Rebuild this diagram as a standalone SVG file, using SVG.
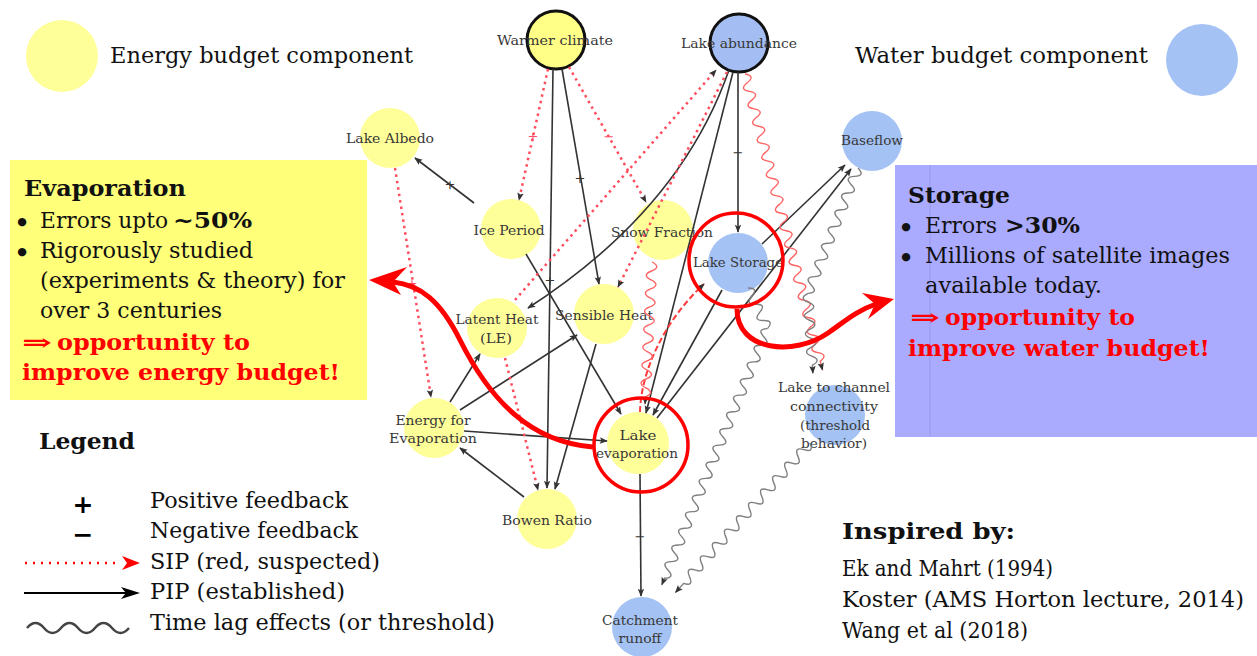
<svg xmlns="http://www.w3.org/2000/svg" width="1257" height="656" viewBox="0 0 1257 656">
<style>
.ny{fill:#ffff99;}
.nb{fill:#a4c2f4;}
.lbl{font-family:"DejaVu Serif","Liberation Serif",serif;font-size:13px;fill:#383838;text-anchor:middle;}
.e{fill:none;stroke:#333;stroke-width:1.6;marker-end:url(#ah);}
.sip{fill:none;stroke:#ff4d5e;stroke-width:2.5;stroke-dasharray:2.5,4;marker-end:url(#ah);}
.sid{fill:none;stroke:#ff3b3b;stroke-width:2;stroke-dasharray:6,3;marker-end:url(#ah);}
.wg{fill:none;stroke:#808080;stroke-width:1.4;}
.wr{fill:none;stroke:#ff6464;stroke-width:1.4;}
.arr{marker-end:url(#ah);}
.tx{font-family:"DejaVu Serif","Liberation Serif",serif;font-size:22px;fill:#111;}
.bul{font-family:"DejaVu Sans",sans-serif;font-size:11px;fill:#111;text-anchor:middle;}
.b{font-weight:bold;}
.rd{fill:#ff0000;font-weight:bold;}
.tk{font-family:"DejaVu Sans",sans-serif;font-size:13px;text-anchor:middle;}
.ring{fill:none;stroke:#ff0000;stroke-width:3.5;}
.thick{fill:none;stroke:#ff0000;stroke-width:5;}
</style>
<defs>
<marker id="ah" viewBox="0 0 10 10" refX="9" refY="5" markerWidth="9" markerHeight="8" markerUnits="userSpaceOnUse" orient="auto">
<path d="M0,1 L10,5 L0,9 L2,5 z" fill="#333"/>
</marker>
</defs>
<rect width="1257" height="656" fill="#ffffff"/>

<g id="legend-top">
<circle cx="62" cy="56" r="36" class="ny"/>
<text class="tx" x="110" y="63" textLength="303" lengthAdjust="spacingAndGlyphs">Energy budget component</text>
<text class="tx" x="855" y="63" textLength="293" lengthAdjust="spacingAndGlyphs">Water budget component</text>
<circle cx="1202" cy="60" r="36" class="nb"/>
</g>

<g id="box-evaporation">
<rect x="10" y="160" width="357" height="240" fill="#ffff7a"/>
<text class="tx b" x="24" y="196" textLength="162" lengthAdjust="spacingAndGlyphs">Evaporation</text>
<text class="bul" x="22" y="225">●</text>
<text class="tx" x="40" y="228" textLength="128" lengthAdjust="spacingAndGlyphs">Errors upto</text>
<text class="tx b" x="173" y="228" textLength="79" lengthAdjust="spacingAndGlyphs">~50%</text>
<text class="bul" x="22" y="255">●</text>
<text class="tx" x="40" y="258" textLength="213" lengthAdjust="spacingAndGlyphs">Rigorously studied</text>
<text class="tx" x="40" y="288" textLength="305" lengthAdjust="spacingAndGlyphs">(experiments &amp; theory) for</text>
<text class="tx" x="40" y="318" textLength="182" lengthAdjust="spacingAndGlyphs">over 3 centuries</text>
<text class="tx rd" x="22" y="350" textLength="30" lengthAdjust="spacingAndGlyphs">⇒</text>
<text class="tx rd" x="57" y="350" textLength="193" lengthAdjust="spacingAndGlyphs">opportunity to</text>
<text class="tx rd" x="22" y="380" textLength="318" lengthAdjust="spacingAndGlyphs">improve energy budget!</text>
</g>

<g id="box-storage">
<rect x="895" y="165" width="362" height="272" fill="#aaaaff"/>
<line x1="930" y1="165" x2="930" y2="437" stroke="#9898ee" stroke-width="1"/>
<text class="tx b" x="908" y="203" textLength="102" lengthAdjust="spacingAndGlyphs">Storage</text>
<text class="bul" x="906" y="230">●</text>
<text class="tx" x="925" y="233" textLength="72" lengthAdjust="spacingAndGlyphs">Errors</text>
<text class="tx b" x="1005" y="233" textLength="75" lengthAdjust="spacingAndGlyphs">&gt;30%</text>
<text class="bul" x="906" y="260">●</text>
<text class="tx" x="925" y="263" textLength="305" lengthAdjust="spacingAndGlyphs">Millions of satellite images</text>
<text class="tx" x="925" y="293" textLength="177" lengthAdjust="spacingAndGlyphs">available today.</text>
<text class="tx rd" x="910" y="325" textLength="30" lengthAdjust="spacingAndGlyphs">⇒</text>
<text class="tx rd" x="945" y="325" textLength="190" lengthAdjust="spacingAndGlyphs">opportunity to</text>
<text class="tx rd" x="908" y="356" textLength="302" lengthAdjust="spacingAndGlyphs">improve water budget!</text>
</g>

<g id="node-warmer-climate">
<circle cx="556" cy="40" r="29" fill="#ffff88" stroke="#111" stroke-width="3"/>
<text class="lbl" x="555" y="45" textLength="116" lengthAdjust="spacingAndGlyphs">Warmer climate</text>
</g>
<g id="node-lake-abundance">
<circle cx="739" cy="43" r="29" fill="#a4bdf2" stroke="#111" stroke-width="3"/>
<text class="lbl" x="739" y="48" textLength="116" lengthAdjust="spacingAndGlyphs">Lake abundance</text>
</g>
<g id="node-lake-albedo">
<circle cx="390" cy="138" r="30" class="ny"/>
<text class="lbl" x="390" y="143" textLength="88" lengthAdjust="spacingAndGlyphs">Lake Albedo</text>
</g>
<g id="node-baseflow">
<circle cx="872" cy="141" r="30" class="nb"/>
<text class="lbl" x="872" y="145" textLength="62" lengthAdjust="spacingAndGlyphs">Baseflow</text>
</g>
<g id="node-ice-period">
<circle cx="511" cy="229" r="30" class="ny"/>
<text class="lbl" x="509" y="235" textLength="71" lengthAdjust="spacingAndGlyphs">Ice Period</text>
</g>
<g id="node-snow-fraction">
<circle cx="663" cy="230" r="30" class="ny"/>
<text class="lbl" x="662" y="237" textLength="102" lengthAdjust="spacingAndGlyphs">Snow Fraction</text>
</g>
<g id="node-lake-storage">
<circle cx="738" cy="263" r="30" class="nb"/>
<text class="lbl" x="738" y="267" textLength="90" lengthAdjust="spacingAndGlyphs">Lake Storage</text>
</g>
<g id="node-latent-heat">
<circle cx="497" cy="328" r="30" class="ny"/>
<text class="lbl" x="497" y="324" textLength="83" lengthAdjust="spacingAndGlyphs">Latent Heat</text>
<text class="lbl" x="496" y="343" textLength="32" lengthAdjust="spacingAndGlyphs">(LE)</text>
</g>
<g id="node-sensible-heat">
<circle cx="604" cy="314" r="30" class="ny"/>
<text class="lbl" x="604" y="320" textLength="98" lengthAdjust="spacingAndGlyphs">Sensible Heat</text>
</g>
<g id="node-energy-for-evaporation">
<circle cx="434" cy="428" r="30" class="ny"/>
<text class="lbl" x="433" y="425" textLength="75" lengthAdjust="spacingAndGlyphs">Energy for</text>
<text class="lbl" x="433" y="443" textLength="88" lengthAdjust="spacingAndGlyphs">Evaporation</text>
</g>
<g id="node-lake-evaporation">
<circle cx="638" cy="443" r="31" class="ny"/>
<text class="lbl" x="638" y="440" textLength="37" lengthAdjust="spacingAndGlyphs">Lake</text>
<text class="lbl" x="637" y="458" textLength="82" lengthAdjust="spacingAndGlyphs">evaporation</text>
</g>
<g id="node-bowen-ratio">
<circle cx="547" cy="519" r="30" class="ny"/>
<text class="lbl" x="547" y="525" textLength="90" lengthAdjust="spacingAndGlyphs">Bowen Ratio</text>
</g>
<g id="node-catchment-runoff">
<circle cx="642" cy="627" r="30" class="nb"/>
<text class="lbl" x="640" y="625" textLength="76" lengthAdjust="spacingAndGlyphs">Catchment</text>
<text class="lbl" x="640" y="643" textLength="43" lengthAdjust="spacingAndGlyphs">runoff</text>
</g>
<g id="node-lake-to-channel">
<circle cx="835" cy="415" r="30" class="nb"/>
<text class="lbl" x="834" y="392" textLength="112" lengthAdjust="spacingAndGlyphs">Lake to channel</text>
<text class="lbl" x="834" y="411" textLength="88" lengthAdjust="spacingAndGlyphs">connectivity</text>
<text class="lbl" x="835" y="430" textLength="70" lengthAdjust="spacingAndGlyphs">(threshold</text>
<text class="lbl" x="834" y="448" textLength="66" lengthAdjust="spacingAndGlyphs">behavior)</text>
</g>

<g id="connectors">
<path class="e" d="M553,69 L547,488"/>
<path class="e" d="M562,69 L599,284"/>
<path class="e" d="M474,203 L415,158"/>
<path class="e" d="M526,254 L621,414"/>
<path class="e" d="M738,72 L738,232"/>
<path class="e" d="M729,70 Q680,210 528,308"/>
<path class="e" d="M733,72 L646,413"/>
<path class="e" d="M722,290 L653,415"/>
<path class="e" d="M762,244 L845,165"/>
<path class="e" d="M657,418 L851,169"/>
<path class="e" d="M464,431 L607,441"/>
<path class="e" d="M450,402 L480,354"/>
<path class="e" d="M460,410 L577,335"/>
<path class="e" d="M524,497 L460,448"/>
<path class="e" d="M596,344 L555,489"/>
<path class="e" d="M640,474 L641,596"/>
<path class="sip" d="M548,69 L519,200"/>
<path class="sip" d="M569,67 L646,202"/>
<path class="sip" d="M515,300 L716,70"/>
<path class="sip" d="M727,72 L618,287"/>
<path class="sip" d="M395,168 L431,397"/>
<path class="sip" d="M505,358 L538,490"/>
<path class="sid" d="M640,412 C641,370 665,320 704,284"/>
<path class="wr arr" transform="translate(745,74) rotate(75.33)" d="M0,0 q4.5,-10 9,0 t9,0 t9,0 t9,0 t9,0 t9,0 t9,0 t9,0 t9,0 t9,0 t9,0 t9,0 t9,0 t9,0 t9,0 t9,0 t9,0 t9,0 t9,0 t9,0 t9,0 t9,0 t9,0 t9,0 t9,0 t9,0 t9,0 t9,0 t9,0 t9,0 t9,0 t9,0 t9,0 l9,0"/>
<path class="wr arr" transform="translate(652,262) rotate(92.8)" d="M0,0 q4.5,-10 9,0 t9,0 t9,0 t9,0 t9,0 t9,0 t9,0 t9,0 t9,0 t9,0 t9,0 t9,0 t9,0 t9,0 t9,0 l7,0"/>
<path class="wg" transform="translate(858,168) rotate(111.8)" d="M0,0 q4.5,-10 9,0 t9,0 t9,0 t9,0 t9,0 t9,0 t9,0 t9,0 t9,0 t9,0 t9,0 t9,0 t9,0 t9,0 t9,0"/>
<path class="wg arr" transform="translate(807.9,293.3) rotate(86.4)" d="M0,0 q4.5,10 9,0 t9,0 t9,0 t9,0 t9,0 t9,0 t9,0 t9,0 l8,0"/>
<path class="wg" transform="translate(748,288) rotate(64.4)" d="M0,0 q4.5,-10 9,0 t9,0 t9,0 t9,0 t9,0"/>
<path class="wg arr" transform="translate(767.4,328.6) rotate(112.4)" d="M0,0 q4.5,10 9,0 t9,0 t9,0 t9,0 t9,0 t9,0 t9,0 t9,0 t9,0 t9,0 t9,0 t9,0 t9,0 t9,0 t9,0 t9,0 t9,0 t9,0 t9,0 t9,0 t9,0 t9,0 t9,0 t9,0 t9,0 t9,0 t9,0 t9,0 t9,0 t9,0 l7,0"/>
<path class="wg arr" transform="translate(810,443) rotate(132)" d="M0,0 q4.5,-10 9,0 t9,0 t9,0 t9,0 t9,0 t9,0 t9,0 t9,0 t9,0 t9,0 t9,0 t9,0 t9,0 t9,0 t9,0 t9,0 t9,0 t9,0 t9,0 t9,0 t9,0 l12,0"/>
<text class="tk" x="533" y="141" fill="#ff4d6a">+</text>
<text class="tk" x="609" y="141" fill="#ff4d6a">−</text>
<text class="tk" x="412" y="288" fill="#ff4d6a">+</text>
<text class="tk" x="580" y="183" fill="#333">+</text>
<text class="tk" x="450" y="189" fill="#333">+</text>
<text class="tk" x="550" y="285" fill="#333">+</text>
<text class="tk" x="738" y="157" fill="#333" font-size="9">−</text>
<text class="tk" x="640" y="541" fill="#333" font-size="9">−</text>
</g>

<g id="highlights">
<circle class="ring" cx="641" cy="445" r="47"/>
<circle class="ring" cx="736" cy="260" r="47"/>
<path class="thick" d="M593,447 C530,442 490,400 460,340 C440,300 420,285 393,282"/>
<polygon points="369,280 407,267 393,282 401,295" fill="#ff0000"/>
<path class="thick" d="M737,309 C737,352 795,356 828,333 C845,321 858,310 876,304"/>
<polygon points="894,299 862,293 875,304 868,319" fill="#ff0000"/>
</g>

<g id="legend">
<text class="tx b" x="39" y="449" textLength="96" lengthAdjust="spacingAndGlyphs">Legend</text>
<text x="83" y="513" font-family="DejaVu Sans,sans-serif" font-size="25" font-weight="bold" text-anchor="middle" fill="#000">+</text>
<text x="83" y="543" font-family="DejaVu Sans,sans-serif" font-size="25" font-weight="bold" text-anchor="middle" fill="#000">−</text>
<line x1="25" y1="563" x2="120" y2="563" stroke="#ff0000" stroke-width="2.5" stroke-dasharray="2,6"/>
<polygon points="122,556 140,563 122,570 127,563" fill="#ff0000"/>
<line x1="24" y1="593" x2="130" y2="593" stroke="#000" stroke-width="2"/>
<polygon points="121,587 140,593 121,599 126,593" fill="#000"/>
<path d="M27,628 q8.5,-10 17,0 t17,0 t17,0 t17,0 t17,0 t17,0" fill="none" stroke="#444" stroke-width="2.5"/>
<text class="tx" x="150" y="508" textLength="198" lengthAdjust="spacingAndGlyphs">Positive feedback</text>
<text class="tx" x="150" y="538" textLength="208" lengthAdjust="spacingAndGlyphs">Negative feedback</text>
<text class="tx" x="150" y="569" textLength="230" lengthAdjust="spacingAndGlyphs">SIP (red, suspected)</text>
<text class="tx" x="150" y="599" textLength="195" lengthAdjust="spacingAndGlyphs">PIP (established)</text>
<text class="tx" x="150" y="630" textLength="345" lengthAdjust="spacingAndGlyphs">Time lag effects (or threshold)</text>
</g>

<g id="credits">
<text class="tx b" x="842" y="539" textLength="173" lengthAdjust="spacingAndGlyphs">Inspired by:</text>
<text class="tx" x="842" y="576" textLength="211" lengthAdjust="spacingAndGlyphs">Ek and Mahrt (1994)</text>
<text class="tx" x="842" y="607" textLength="402" lengthAdjust="spacingAndGlyphs">Koster (AMS Horton lecture, 2014)</text>
<text class="tx" x="842" y="638" textLength="186" lengthAdjust="spacingAndGlyphs">Wang et al (2018)</text>
</g>
</svg>
